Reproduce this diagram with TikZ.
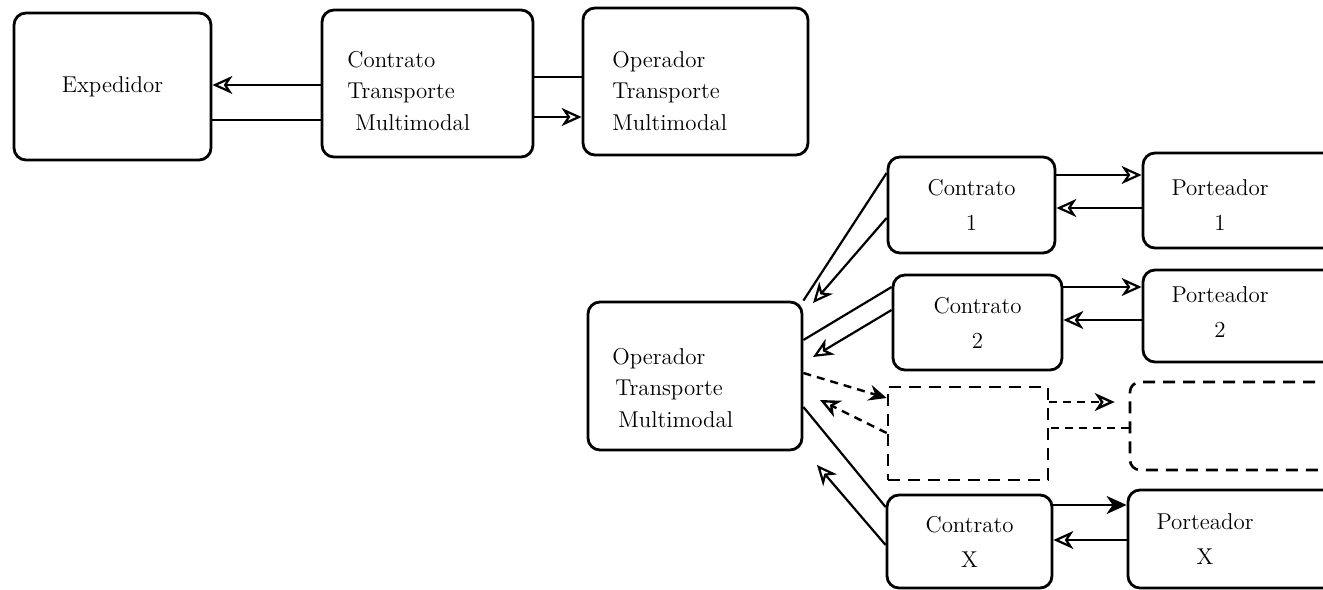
\documentclass[tikz,border=0pt]{standalone}
\usetikzlibrary{arrows.meta}
\begin{document}
\begin{tikzpicture}[x=0.5bp,y=-0.5bp,
  box/.style={draw, line width=1.4bp, rounded corners=6bp, inner sep=0pt, font=\fontsize{11.5}{16}\selectfont},
  cbox/.style={box, align=center, font=\fontsize{11.5}{17.5}\selectfont},
  dbox/.style={draw, line width=1.3bp, dash pattern=on 6bp off 4bp, inner sep=0pt},
  txt/.style={align=center, inner sep=0pt, font=\fontsize{11.5}{17.5}\selectfont},
  ltxt/.style={align=left, anchor=west, inner sep=0pt, font=\fontsize{11.5}{15.8}\selectfont},
  conn/.style={line width=1.1bp},
  arr/.style={conn, -{Stealth[open, length=10bp, width=9bp, inset=3bp]}},
  farr/.style={conn, -{Stealth[length=10bp, width=9bp, inset=3bp]}},
  dconn/.style={line width=1.2bp, dash pattern=on 4bp off 3bp},
  darr/.style={dconn, -{Stealth[length=9bp, width=8bp, inset=3bp]}},
  doarr/.style={dconn, -{Stealth[open, length=10bp, width=9bp, inset=3bp]}}]
\useasboundingbox (0,0) rectangle (1323,590);
\clip (0,0) rectangle (1323,590);
\fill[white] (0,0) rectangle (1323,590);

% top row
\node[cbox, minimum width=98.5bp, minimum height=73.5bp] (exp) at (112.5,86.5) {Expedidor};
\node[box, minimum width=105.5bp, minimum height=73.5bp] (ctm) at (427.5,83.5) {};
\node[box, minimum width=112.5bp, minimum height=73.5bp] (otm1) at (695.5,81.5) {};
\node[ltxt] (ctmt) at (347,91) {Contrato\\Transporte\\\hspace*{4bp}Multimodal};
\node[ltxt] (otm1t) at (612,91) {Operador\\Transporte\\Multimodal};

% lower part
\node[box, minimum width=107bp, minimum height=74bp] (otm2) at (695,376) {};
\node[ltxt] (otm2t) at (612,388) {Operador\\\hspace*{1.5bp}Transporte\\\hspace*{3bp}Multimodal};
\node[cbox, minimum width=83.5bp, minimum height=48bp] (c1) at (971.5,205) {Contrato\\1};
\node[cbox, minimum width=84.5bp, minimum height=47.5bp] (c2) at (977.5,322.5) {Contrato\\2};
\node[cbox, minimum width=82.5bp, minimum height=46.5bp] (cX) at (969.5,541.5) {Contrato\\X};
\node[box, minimum width=101bp, minimum height=47.5bp] (p1) at (1244,200.5) {};
\node[box, minimum width=101bp, minimum height=46bp] (p2) at (1244,316) {};
\node[box, minimum width=108.5bp, minimum height=49bp] (pX) at (1236.5,539) {};
\node[txt] (p1t) at (1220,205) {Porteador\\1};
\node[txt] (p2t) at (1220,312) {Porteador\\2};
\node[txt] (pXt) at (1205,539) {Porteador\\X};
\node[dbox, minimum width=80bp, minimum height=46.5bp] (cph) at (968,433.5) {};
\node[dbox, rounded corners=5bp, minimum width=107.5bp, minimum height=44bp] (pph) at (1237.5,426) {};

% helper heights
\foreach \h in {77,85,117,120,173,175,208,218,287,310,320,340,373,398,402,407,428,433,505,507,540,545}
  {\coordinate (h\h) at (0,\h);}
\coordinate (t14) at (813,303);
\coordinate (t16) at (813,357);
\coordinate (t18) at (820,400);
\coordinate (t20) at (817,465);

% top connectors
\draw[arr] (ctm.west |- h85) -- (exp.east |- h85);
\draw[conn] (exp.east |- h120) -- (ctm.west |- h120);
\draw[conn] (ctm.east |- h77) -- (otm1.west |- h77);
\draw[arr] (ctm.east |- h117) -- (otm1.west |- h117);

% contrato <-> porteador
\draw[arr] (c1.east |- h175) -- (p1.west |- h175);
\draw[arr] (p1.west |- h208) -- (c1.east |- h208);
\draw[arr] (c2.east |- h287) -- (p2.west |- h287);
\draw[arr] (p2.west |- h320) -- (c2.east |- h320);
\draw[doarr, shorten >=7bp] (cph.east |- h402) -- (pph.west |- h402);
\draw[dconn] (pph.west |- h428) -- (cph.east |- h428);
\draw[farr] (cX.east |- h505) -- (pX.west |- h505);
\draw[arr] (pX.west |- h540) -- (cX.east |- h540);

% operador <-> contratos
\draw[conn] (c1.west |- h173) -- (otm2.north east);
\draw[arr] (c1.west |- h218) -- (t14);
\draw[conn] (c2.west |- h287) -- (otm2.east |- h340);
\draw[arr] (c2.west |- h310) -- (t16);
\draw[darr] (otm2.east |- h373) -- (cph.west |- h398);
\draw[doarr] (cph.west |- h433) -- (t18);
\draw[conn] (otm2.east |- h407) -- (cX.west |- h507);
\draw[arr] (cX.west |- h545) -- (t20);
\end{tikzpicture}
\end{document}
